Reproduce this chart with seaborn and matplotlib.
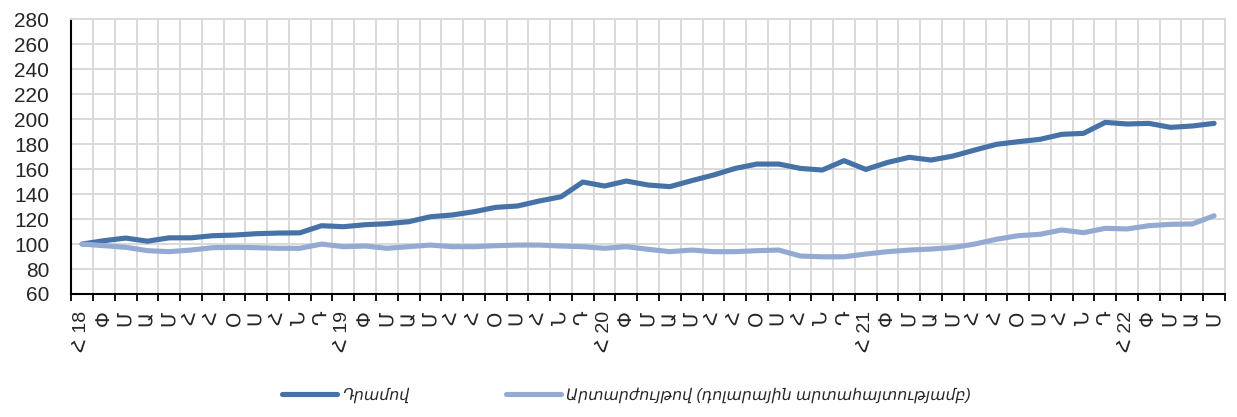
import matplotlib
matplotlib.use("Agg")
import matplotlib.pyplot as plt
import seaborn as sns
import pandas as pd
import numpy as np
from matplotlib.ticker import FixedLocator
from matplotlib.lines import Line2D

# ---- data ----
months = ['Հ', 'Փ', 'Մ', 'Ա', 'Մ', 'Հ', 'Հ', 'Օ', 'Ս', 'Հ', 'Ն', 'Դ']
years = ['18', '19', '20', '21', '22']
n_points = 53

dram = [100, 102.7, 104.8, 102.3, 105.0, 105.0, 106.7, 107.2, 108.3, 108.8, 109.0, 114.7,
        113.9, 115.5, 116.3, 117.9, 121.9, 123.3, 125.9, 129.4, 130.5, 134.5, 137.9, 149.7,
        146.5, 150.5, 147.3, 146.0, 150.8, 155.3, 160.6, 164.1, 164.1, 160.6, 159.3, 166.8,
        159.8, 165.4, 169.5, 167.3, 170.5, 175.3, 179.9, 182.0, 183.9, 187.9, 188.7, 197.5,
        196.2, 196.7, 193.5, 194.6, 196.7]

fx = [100, 98.7, 97.4, 94.7, 93.9, 95.2, 97.1, 97.4, 97.1, 96.6, 96.6, 100,
      97.9, 98.4, 96.6, 97.9, 99.2, 97.9, 97.9, 98.7, 99.2, 99.2, 98.4, 97.9,
      96.6, 97.9, 95.8, 93.9, 95.2, 93.9, 93.9, 94.7, 95.2, 90.4, 89.8, 89.8,
      92.0, 93.9, 95.2, 96.0, 97.2, 100, 103.8, 106.7, 107.8, 111.3, 109.1, 112.6,
      112.1, 114.7, 115.8, 116.1, 122.7]

series_names = ['Դրամով', 'Արտարժույթով (դոլարային արտահայտությամբ)']
colors = ['#4672A8', '#95AAD3']

labels = []
for i in range(n_points):
    m = months[i % 12]
    if i % 12 == 0:
        labels.append(f"{m} {years[i // 12]}")
    else:
        labels.append(m)

df = pd.DataFrame({
    'idx': list(range(n_points)) * 2,
    'value': dram + fx,
    'series': [series_names[0]] * n_points + [series_names[1]] * n_points,
})

# ---- plot ----
sns.set_theme(style='white')
plt.rcParams['font.family'] = ['Liberation Sans', 'DejaVu Sans']

fig = plt.figure(figsize=(12.37, 4.17), dpi=100)
ax = fig.add_axes([0.0576, 0.295, 0.9327, 0.6585])

sns.lineplot(data=df, x='idx', y='value', hue='series', palette=colors,
             hue_order=series_names, linewidth=3.7, ax=ax, legend=False,
             solid_capstyle='round', solid_joinstyle='round')

ax.set_xlim(-0.5, n_points - 0.5)
ax.set_ylim(60, 280)
ax.set_yticks(np.arange(60, 281, 20))
ax.set_xlabel('')
ax.set_ylabel('')

ax.set_xticks(range(n_points))
ax.set_xticklabels(labels, rotation=90, fontsize=14, va='top', ha='center')
ax.xaxis.set_minor_locator(FixedLocator(np.arange(-0.5, n_points, 1.0)))
ax.tick_params(axis='x', which='major', length=0, pad=12)
ax.tick_params(axis='x', which='minor', length=5, width=1.3, color='black', direction='out', bottom=True)
ax.tick_params(axis='y', which='major', length=0, pad=16, labelsize=15)

ax.grid(False)
ax.grid(axis='y', which='major', color='#D9D9D9', linewidth=1.4)
ax.grid(axis='x', which='minor', color='#D9D9D9', linewidth=1.4)
ax.set_axisbelow(True)

for s in ['top', 'right']:
    ax.spines[s].set_color('#D9D9D9')
    ax.spines[s].set_linewidth(1.4)
for s in ['left', 'bottom']:
    ax.spines[s].set_color('black')
    ax.spines[s].set_linewidth(1.5)

handles = [Line2D([0], [0], color=c, linewidth=3.7, solid_capstyle='round') for c in colors]
fig.legend(handles, series_names, loc='center', bbox_to_anchor=(0.5065, 0.052), ncol=2,
           frameon=False, handlelength=3.5, handletextpad=0.32, columnspacing=6.2,
           prop={'size': 11.3, 'style': 'italic', 'family': ['Liberation Sans', 'DejaVu Sans']})

fig.savefig('out.png', dpi=100)
